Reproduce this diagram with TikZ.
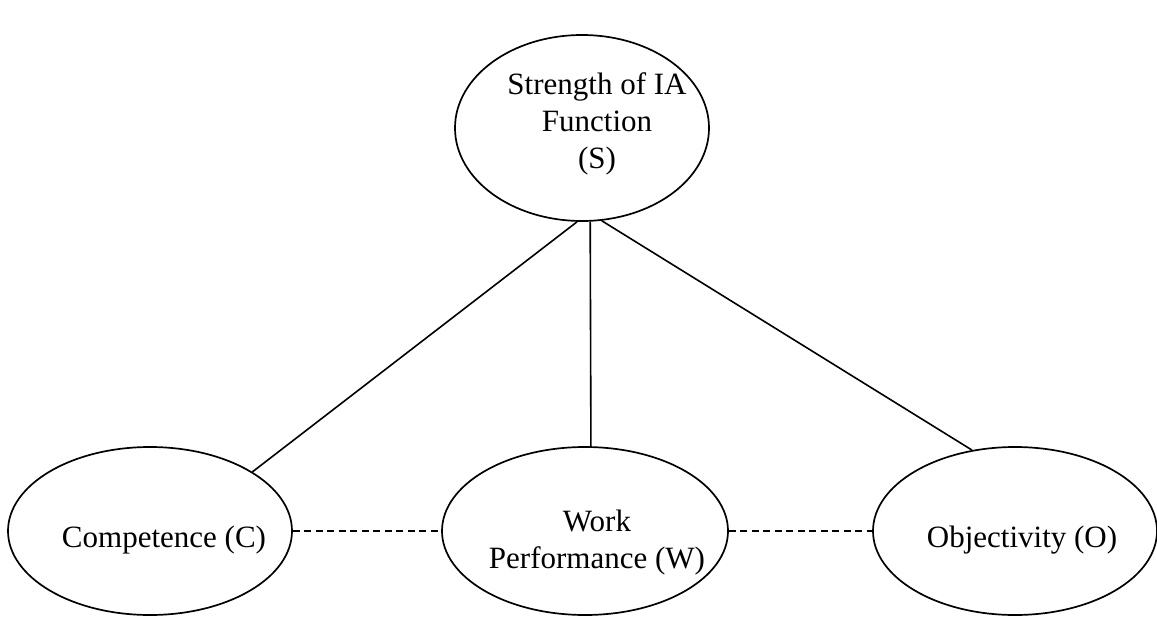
\documentclass[tikz,border=0pt]{standalone}
\usepackage{fontspec}
\setmainfont{Liberation Serif}
\usetikzlibrary{shapes.geometric}

\begin{document}
\begin{tikzpicture}[x=1pt, y=-1pt, every node/.style={font=\fontsize{31}{37}\selectfont},
	ell/.style={draw, ellipse, line width=1.7pt, inner sep=0pt},
	txt/.style={align=center, inner sep=0pt},
	link/.style={line width=1.6pt},
	dotlink/.style={line width=1.4pt, dash pattern=on 7pt off 4.5pt}]
	\useasboundingbox (0,0) rectangle (1157,618);
	\node[ell, minimum width=254, minimum height=186] (S) at (582,128) {};
	\node[ell, minimum width=284, minimum height=168] (C) at (150,531) {};
	\node[ell, minimum width=286, minimum height=168] (W) at (585,531) {};
	\node[ell, minimum width=284, minimum height=168] (O) at (1015,531) {};
	\node[txt] (St) at (597,124) {Strength of IA\\Function\\(S)};
	\node[txt] (Ct) at (164,540) {Competence (C)};
	\node[txt] (Wt) at (597,543) {Work\\Performance (W)};
	\node[txt] (Ot) at (1022,540) {Objectivity (O)};
	\draw[link] (S.267) -- (C.30);
	\draw[link] (S.275) -- (W.86);
	\draw[link] (S.282) -- (O.118);
	\draw[dotlink] (C.east) -- (W.west);
	\draw[dotlink] (W.east) -- (O.west);
\end{tikzpicture}
\end{document}
